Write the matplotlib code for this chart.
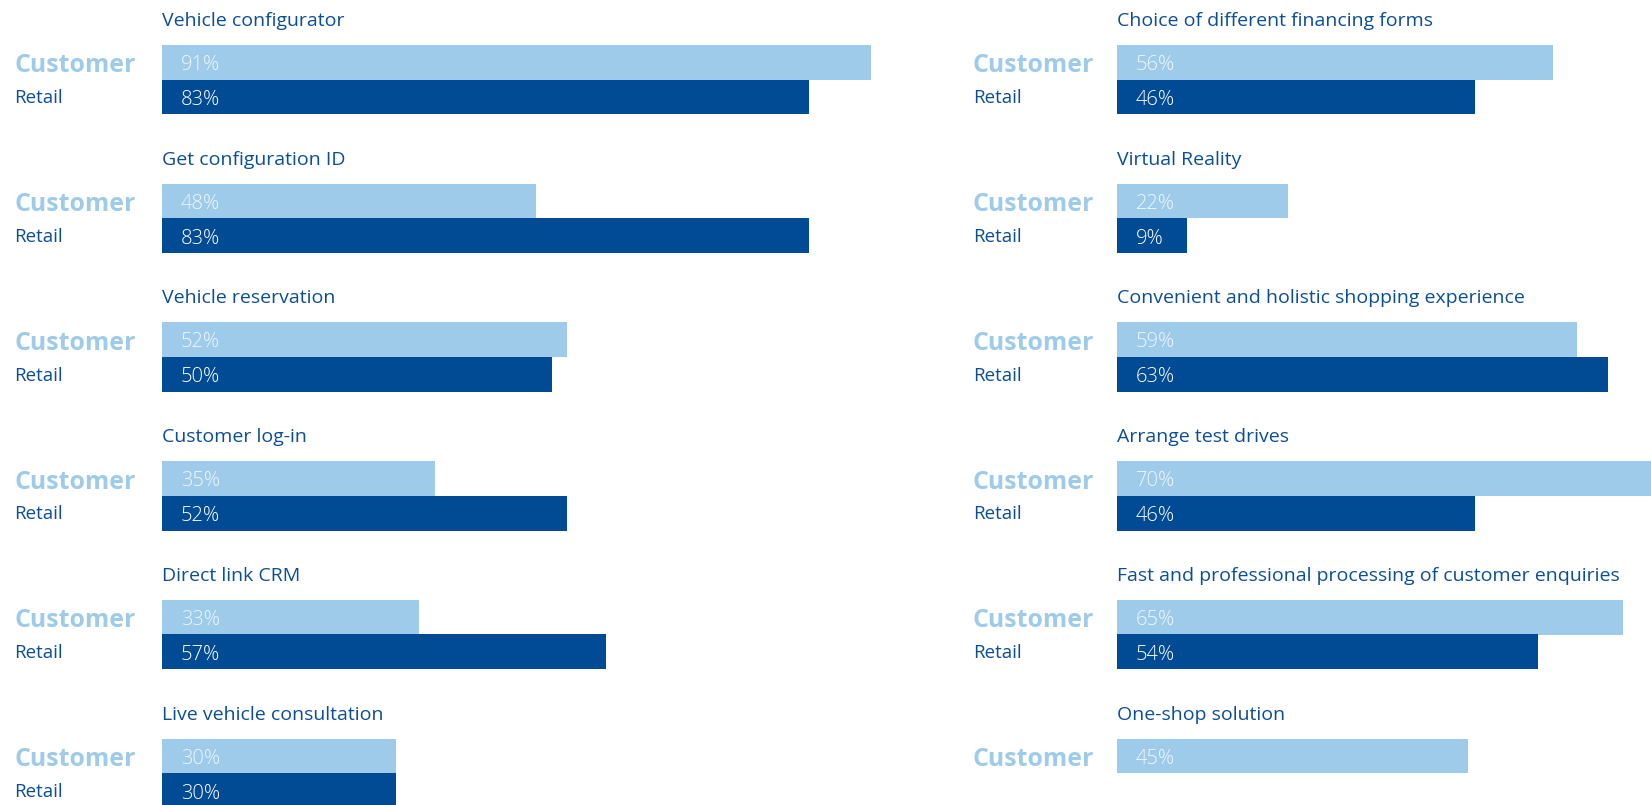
import matplotlib
matplotlib.use("Agg")
import matplotlib.pyplot as plt
from matplotlib.transforms import offset_copy

# Survey results: share of respondents (%) per feature, customer vs. retail
left_features = ["Vehicle configurator", "Get configuration ID", "Vehicle reservation",
                 "Customer log-in", "Direct link CRM", "Live vehicle consultation"]
left_customer = [91, 48, 52, 35, 33, 30]
left_retail = [83, 83, 50, 52, 57, 30]

right_features = ["Choice of different financing forms", "Virtual Reality",
                  "Convenient and holistic shopping experience", "Arrange test drives",
                  "Fast and professional processing of customer enquiries",
                  "One-shop solution"]
right_customer = [56, 22, 59, 70, 65, 45]
right_retail = [46, 9, 63, 46, 54, None]

LIGHT = "#9ECBE9"
DARK = "#004B93"
TEXT = "#0B4E96"
FONT = "Open Sans"

W, H = 1651, 805
fig = plt.figure(figsize=(W / 100, H / 100), dpi=100)
fig.patch.set_facecolor("white")

# overlay axes in pixel units for the row labels
base = fig.add_axes([0, 0, 1, 1])
base.set_xlim(0, W)
base.set_ylim(H, 0)
base.axis("off")

PX_PER_PCT = 7.79
ROW0, STEP, BAR_H = 45.0, 138.7, 34.7


def panel(x0, label_x, features, cust, retail):
    right_edge = W if x0 > W / 2 else 940
    ax = fig.add_axes([x0 / W, 0, (right_edge - x0) / W, 1])
    ax.set_xlim(0, (right_edge - x0) / PX_PER_PCT)
    ax.set_ylim(H, 0)
    ax.axis("off")
    pct_tr = offset_copy(ax.transData, fig=fig, x=19, y=0, units="dots")
    for i, name in enumerate(features):
        top = ROW0 + STEP * i
        base.text(x0, top - 19, name, fontsize=14, color=TEXT,
                  family=FONT, va="baseline", ha="left")
        ax.barh(top + BAR_H / 2, cust[i], height=BAR_H, color=LIGHT, linewidth=0)
        ax.text(0, top + 25, f"{cust[i]}%", transform=pct_tr, fontsize=14.5,
                fontweight="light", color="#EEF6FC", family=FONT,
                va="baseline", ha="left")
        base.text(label_x, top + 27.5, "Customer", fontsize=17.9, fontweight="bold",
                  color=LIGHT, family=FONT, va="baseline", ha="left")
        if retail[i] is not None:
            ax.barh(top + BAR_H * 1.5, retail[i], height=BAR_H, color=DARK, linewidth=0)
            ax.text(0, top + 60, f"{retail[i]}%", transform=pct_tr, fontsize=14.5,
                    fontweight="light", color="white", family=FONT,
                    va="baseline", ha="left")
            base.text(label_x, top + 58.3, "Retail", fontsize=13.5,
                      color=TEXT, family=FONT, va="baseline", ha="left")


panel(162, 14, left_features, left_customer, left_retail)
panel(1117, 973, right_features, right_customer, right_retail)

fig.savefig("out.png", dpi=100, facecolor="white")
